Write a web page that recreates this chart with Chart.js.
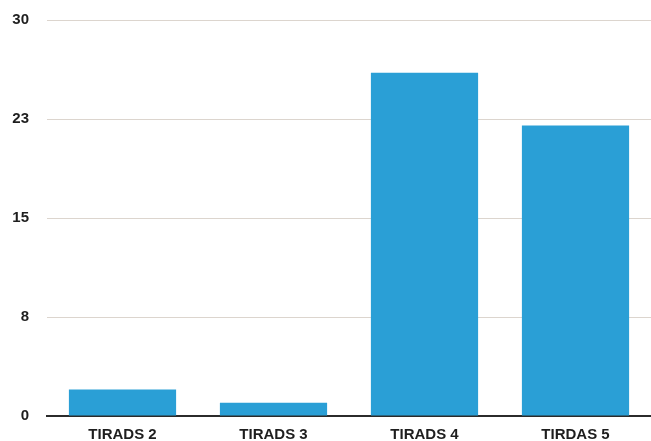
<!DOCTYPE html>
<html>
<head>
<meta charset="utf-8">
<script src="https://cdn.jsdelivr.net/npm/chart.js@4/dist/chart.umd.min.js"></script>
<style>
  html, body { margin: 0; padding: 0; background: #ffffff; }
  #wrap { width: 651px; height: 441px; position: relative; }
</style>
</head>
<body>
<div id="wrap"><canvas id="c"></canvas></div>
<script>
// Category names and counts per TIRADS class
const categories = ['TIRADS 2', 'TIRADS 3', 'TIRADS 4', 'TIRDAS 5'];
const counts = [2, 1, 26, 22];
// Y-axis tick values and the labels printed beside them
const yTickValues = [0, 7.5, 15, 22.5, 30];
const yTickLabels = ['0', '8', '15', '23', '30'];

const FONT = '"Liberation Sans", Arial, Helvetica, sans-serif';

// Fix an axis' thickness and drop the extra edge padding added for its labels
function fixBox(size, key) {
  return (s) => {
    s[key] = size;
    s.paddingTop = 0; s.paddingBottom = 0; s.paddingLeft = 0; s.paddingRight = 0;
  };
}

new Chart(document.getElementById('c'), {
  type: 'bar',
  data: {
    labels: categories,
    datasets: [{
      data: counts,
      backgroundColor: '#2a9fd6',
      borderWidth: 0,
      categoryPercentage: 0.71,
      barPercentage: 1.0
    }]
  },
  options: {
    responsive: true,
    maintainAspectRatio: false,
    animation: false,
    layout: { padding: { top: 20, right: 0, left: 0, bottom: 0 } },
    plugins: { legend: { display: false }, tooltip: { enabled: false } },
    scales: {
      x: {
        grid: { display: false, drawTicks: false },
        border: { display: true, color: '#2b2b2b', width: 2 },
        ticks: {
          color: '#1e1e1e',
          font: { family: FONT, size: 15, weight: 'bold' },
          padding: 10,
          maxRotation: 0
        },
        afterFit: fixBox(25, 'height')
      },
      y: {
        min: 0,
        max: 30,
        afterBuildTicks: (s) => { s.ticks = yTickValues.map(v => ({ value: v })); },
        grid: { color: '#dcd5ce', lineWidth: 1, drawTicks: false },
        border: { display: false },
        ticks: {
          color: '#1e1e1e',
          font: { family: FONT, size: 15, weight: 'bold' },
          padding: 18,
          callback: (v) => yTickLabels[yTickValues.indexOf(v)]
        },
        afterFit: fixBox(47, 'width')
      }
    }
  }
});
</script>
</body>
</html>
